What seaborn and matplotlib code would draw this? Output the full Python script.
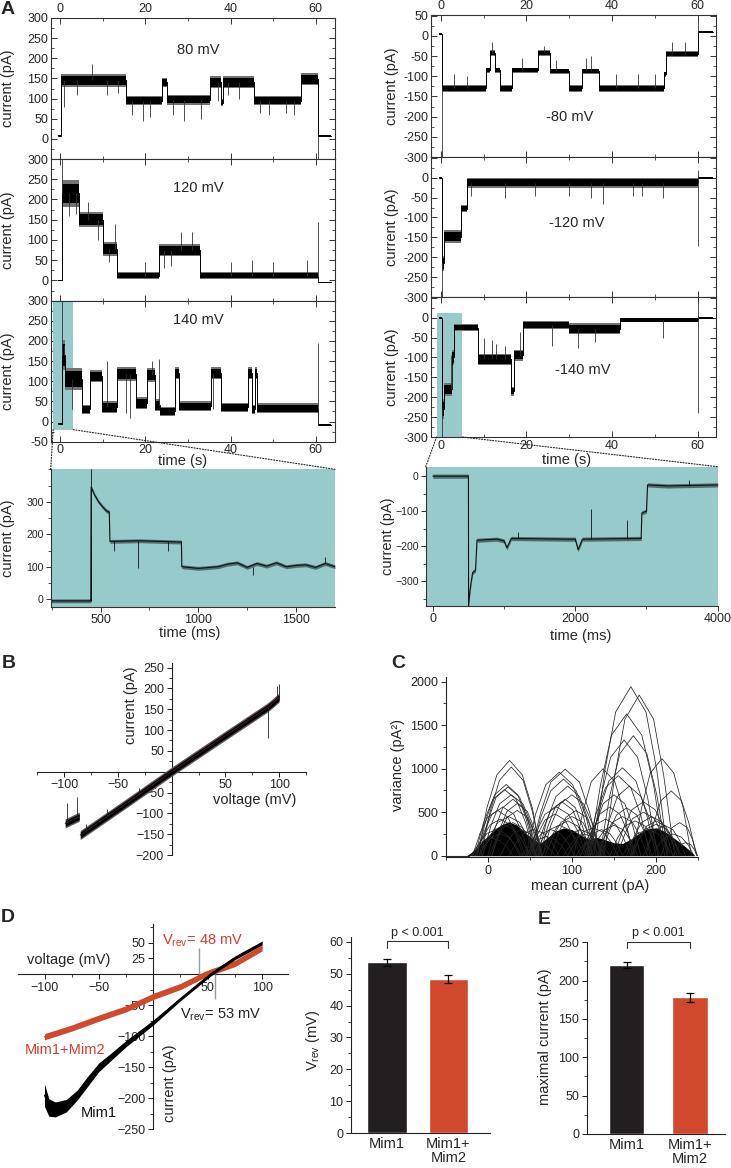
import numpy as np
import pandas as pd
import matplotlib
matplotlib.use('Agg')
import matplotlib.pyplot as plt
from matplotlib.patches import ConnectionPatch
from matplotlib.ticker import MultipleLocator, FixedLocator
import seaborn as sns

sns.set_theme(style='ticks')
plt.rcParams['font.family'] = ['Liberation Sans', 'DejaVu Sans']
plt.rcParams['mathtext.fontset'] = 'custom'
plt.rcParams['mathtext.rm'] = 'Liberation Sans'
plt.rcParams['mathtext.it'] = 'Liberation Sans:italic'
plt.rcParams['axes.linewidth'] = 0.8

# ---------------- DATA ----------------
# Panel A, single-channel traces (time s, current pA, noise half-width pA)
a80_t = [-0.5, 0.3, 15.5, 23.9, 25.0, 35.2, 37.7, 38.3, 45.5, 56.6, 60.6, 63.5]
a80_i = [8, 145, 95, 140, 97, 140, 90, 140, 95, 148, 8, 8]
a80_n = [1.5, 12, 9, 9, 9, 11, 7, 11, 9, 11, 1.5, 1.5]
a80_spk_t = [1.0, 4.0, 7.5, 11.0, 13.5, 17.0, 19.5, 21.0, 26.5, 29.0, 33.0, 37.0, 39.5, 42.0, 47.0, 49.0, 53.0, 55.0, 60.6]
a80_spk_i = [80, 110, 185, 110, 115, 60, 45, 55, 60, 45, 50, 95, 110, 100, 65, 60, 65, 60, -50]

a120_t = [-0.5, 0.4, 4.5, 10.2, 13.3, 23.2, 32.9, 60.5, 63.5]
a120_i = [0, 215, 150, 78, 12, 75, 12, -5, -5]
a120_n = [1.5, 24, 14, 13, 6, 11, 6, 1.5, 1.5]
a120_spk_t = [0.4, 2.2, 3.8, 6.5, 9.0, 11.5, 12.8, 20.0, 24.5, 26.0, 28.5, 31.0, 40.0, 45.0, 50.0, 58.0, 60.5]
a120_spk_i = [300, 160, 165, 195, 100, 45, 140, 45, 30, 35, 120, 120, 45, 50, 45, 50, 145]

a140_t = [-0.5, 0.4, 1.2, 5.1, 7.0, 9.8, 13.3, 17.8, 20.3, 22.3, 23.5, 27.0, 27.8,
          35.4, 37.7, 44.2, 45.0, 45.8, 46.2, 60.6, 63.5]
a140_i = [-5, 165, 105, 30, 112, 35, 118, 45, 115, 40, 25, 120, 38,
          120, 35, 120, 30, 120, 33, -8, -8]
a140_n = [1.5, 28, 20, 9, 11, 11, 13, 11, 13, 11, 9, 11, 9,
          11, 9, 11, 9, 11, 9, 1.5, 1.5]
a140_spk_t = [0.4, 1.0, 2.8, 11.0, 15.5, 16.5, 21.5, 23.3, 36.0, 60.6]
a140_spk_i = [300, 190, 30, 150, 20, 10, 150, 155, 30, 195]

b80_t = [-0.5, 0.2, 10.5, 11.4, 12.6, 13.8, 16.7, 22.7, 25.6, 30.0, 32.9, 37.0,
         52.1, 52.7, 60.1, 63.5]
b80_i = [5, -130, -85, -42, -85, -130, -85, -42, -88, -130, -88, -130,
         -95, -45, 10, 10]
b80_n = [1.5, 7, 5, 5, 5, 7, 5, 5, 5, 7, 5, 7, 5, 5, 1.5, 1.5]
b80_spk_t = [0.2, 3.0, 6.0, 11.9, 19.0, 24.0, 27.0, 34.0, 35.0, 41.0, 46.0, 50.0, 54.0, 57.0, 60.1]
b80_spk_i = [-300, -95, -100, -15, -55, -25, -60, -55, -50, -95, -95, -95, -15, -15, 50]

b120_t = [-0.5, 0.3, 0.8, 4.8, 6.2, 60.0, 63.5]
b120_i = [0, -215, -148, -78, -13, 0, 0]
b120_n = [1.5, 14, 12, 6, 9, 1.5, 1.5]
b120_spk_t = [0.3, 7.0, 15.0, 22.0, 30.0, 35.0, 38.0, 45.0, 47.0, 52.0, 60.0, 60.0]
b120_spk_i = [-300, -45, -50, -45, -45, -50, -65, -45, -45, -50, -173, 20]

b140_t = [-0.5, 0.3, 0.7, 2.7, 3.0, 8.7, 16.5, 17.0, 19.2, 30.0, 41.8, 60.1, 63.5]
b140_i = [0, -230, -180, -100, -25, -105, -185, -95, -18, -28, -6, 0, 0]
b140_n = [1.5, 18, 12, 14, 7, 11, 8, 10, 7, 10, 4, 1.5, 1.5]
b140_spk_t = [0.3, 2.3, 2.5, 10.0, 12.0, 13.0, 15.0, 18.5, 26.0, 32.0, 36.0, 52.0, 60.1, 60.1]
b140_spk_i = [-300, -95, -120, -50, -55, -65, -70, -35, -70, -75, -60, -50, 45, -240]

# highlighted windows (t0, t1, i0, i1)
win_left = [-1.6, 3.1, -20, 300]
win_right = [-1.0, 5.0, -300, 13]

# insets (time ms, current pA)
ins_l_t = [245, 450, 452, 470, 490, 510, 530, 545, 548, 700, 914, 916, 1000, 1100,
           1150, 1200, 1250, 1300, 1350, 1400, 1450, 1500, 1550, 1600, 1650, 1700]
ins_l_i = [-5, -5, 345, 320, 300, 285, 272, 268, 178, 180, 176, 100, 95, 100,
           108, 112, 98, 110, 102, 112, 100, 104, 106, 98, 110, 100]
ins_l_spk_t = [450, 451, 570, 690, 845, 1280, 1650]
ins_l_spk_i = [400, 195, 150, 95, 150, 75, 130]

ins_r_t = [0, 500, 502, 520, 540, 560, 600, 620, 900, 1000, 1040, 1100, 1900, 2000,
           2040, 2100, 2900, 2925, 2935, 3000, 3015, 3300, 4000]
ins_r_i = [0, 0, -370, -330, -300, -275, -268, -183, -180, -185, -205, -178, -180,
           -180, -210, -180, -178, -178, -105, -100, -25, -28, -25]
ins_r_spk_t = [1200, 2220, 2720, 3600]
ins_r_spk_i = [-160, -95, -125, -10]

# Panel B: I-V ramp
b_v1 = [-99, -86]
b_i1 = [-124, -108]
b_v2 = [-85, -40, 0, 45, 88, 92, 100]
b_i2 = [-152, -72, 0, 78, 152, 160, 178]
b_spk_v = [-97, -88, -80, -60, -30, 70, 90, 98, 100]
b_spk_i = [-75, -60, -125, -90, -40, 130, 80, 205, 210]

# Panel C: variance vs mean current (arcs)
c_arc_x = [
    [-12, -1, 11, 26, 41, 53, 64], [-8, 3, 14, 28, 42, 53, 64],
    [-13, -2, 8, 22, 36, 46, 57], [-10, 0, 10, 24, 38, 48, 58],
    [-15, -5, 6, 20, 34, 45, 55], [0, 9, 18, 30, 42, 51, 60],
    [-14, -4, 5, 18, 31, 40, 50], [5, 14, 23, 35, 47, 56, 65],
    [-15, -6, 3, 15, 27, 36, 45],
    [-18, -10, -1, 10, 21, 30, 38], [-10, -1, 8, 20, 32, 41, 50],
    [2, 10, 19, 30, 41, 50, 58], [-7, 3, 12, 25, 38, 47, 57],
    [-10, -3, 5, 15, 25, 33, 40], [15, 23, 30, 40, 50, 58, 65],
    [-20, -13, -5, 5, 15, 23, 30], [5, 14, 23, 35, 47, 56, 65],
    [-6, 4, 14, 28, 42, 52, 62], [-18, -9, 0, 12, 24, 33, 42],
    [50, 63, 75, 92, 109, 121, 134], [45, 57, 69, 85, 101, 113, 125],
    [52, 63, 75, 90, 105, 117, 128], [60, 70, 81, 95, 109, 120, 130],
    [65, 75, 86, 100, 114, 125, 135], [56, 66, 75, 88, 101, 110, 120],
    [75, 84, 93, 105, 117, 126, 135], [50, 59, 68, 80, 92, 101, 110],
    [47, 55, 64, 75, 86, 95, 103], [55, 64, 73, 85, 97, 106, 115],
    [65, 74, 83, 95, 107, 116, 125], [82, 90, 99, 110, 121, 130, 138],
    [68, 78, 87, 100, 113, 122, 132], [47, 58, 68, 82, 96, 107, 117],
    [62, 71, 80, 92, 104, 113, 122], [90, 98, 105, 115, 125, 133, 140],
    [45, 53, 60, 70, 80, 88, 95],
    [126, 139, 152, 170, 188, 201, 214], [138, 151, 163, 180, 197, 209, 222],
    [120, 134, 147, 165, 183, 197, 210], [133, 145, 157, 173, 189, 201, 213],
    [122, 134, 146, 162, 178, 190, 202], [102, 113, 123, 137, 151, 162, 172],
    [120, 132, 144, 160, 176, 188, 200], [117, 128, 140, 155, 170, 182, 193],
    [172, 183, 193, 207, 221, 232, 242], [188, 197, 206, 218, 230, 239, 248],
    [133, 144, 154, 168, 182, 193, 203], [118, 128, 137, 150, 163, 172, 182],
    [150, 161, 171, 185, 199, 210, 220], [206, 213, 219, 228, 237, 243, 249],
    [115, 124, 133, 145, 157, 166, 175], [170, 179, 188, 200, 212, 221, 230],
    [110, 118, 125, 135, 145, 153, 160], [122, 130, 139, 150, 161, 170, 178],
    [130, 139, 148, 160, 172, 181, 190], [145, 154, 163, 175, 187, 196, 205],
    [160, 169, 178, 190, 202, 211, 220], [172, 180, 189, 200, 211, 220, 228],
    [185, 193, 200, 210, 220, 228, 235], [195, 203, 210, 220, 230, 238, 245],
    [153, 163, 172, 185, 198, 207, 217], [135, 144, 153, 165, 177, 186, 195],
    [110, 119, 128, 140, 152, 161, 170], [165, 174, 183, 195, 207, 216, 225],
    [25, 34, 43, 55, 67, 76, 85], [95, 104, 113, 125, 137, 146, 155],
    [40, 46, 52, 60, 68, 74, 80], [105, 111, 117, 125, 133, 139, 145],
    [220, 225, 229, 235, 241, 245, 249],
]
c_arc_y = [
    [0, 548, 931, 1095, 931, 548, 0], [0, 510, 867, 1020, 867, 510, 0],
    [0, 410, 697, 820, 697, 410, 0], [0, 395, 672, 790, 672, 395, 0],
    [0, 380, 646, 760, 646, 380, 0], [0, 325, 553, 650, 553, 325, 0],
    [0, 280, 476, 560, 476, 280, 0], [0, 260, 442, 520, 442, 260, 0],
    [0, 210, 357, 420, 357, 210, 0],
    [0, 150, 255, 300, 255, 150, 0], [0, 175, 298, 350, 298, 175, 0],
    [0, 190, 323, 380, 323, 190, 0], [0, 225, 383, 450, 383, 225, 0],
    [0, 125, 213, 250, 213, 125, 0], [0, 150, 255, 300, 255, 150, 0],
    [0, 100, 170, 200, 170, 100, 0], [0, 300, 510, 600, 510, 300, 0],
    [0, 350, 595, 700, 595, 350, 0], [0, 260, 442, 520, 442, 260, 0],
    [0, 498, 846, 995, 846, 498, 0], [0, 480, 816, 960, 816, 480, 0],
    [0, 440, 748, 880, 748, 440, 0], [0, 400, 680, 800, 680, 400, 0],
    [0, 350, 595, 700, 595, 350, 0], [0, 310, 527, 620, 527, 310, 0],
    [0, 260, 442, 520, 442, 260, 0], [0, 240, 408, 480, 408, 240, 0],
    [0, 150, 255, 300, 255, 150, 0], [0, 175, 298, 350, 298, 175, 0],
    [0, 200, 340, 400, 340, 200, 0], [0, 150, 255, 300, 255, 150, 0],
    [0, 225, 383, 450, 383, 225, 0], [0, 280, 476, 560, 476, 280, 0],
    [0, 325, 553, 650, 553, 325, 0], [0, 125, 213, 250, 213, 125, 0],
    [0, 110, 187, 220, 187, 110, 0],
    [0, 972, 1652, 1943, 1652, 972, 0], [0, 924, 1570, 1847, 1570, 924, 0],
    [0, 815, 1386, 1630, 1386, 815, 0], [0, 690, 1173, 1380, 1173, 690, 0],
    [0, 665, 1131, 1330, 1131, 665, 0], [0, 500, 850, 1000, 850, 500, 0],
    [0, 505, 859, 1010, 859, 505, 0], [0, 460, 782, 920, 782, 460, 0],
    [0, 558, 949, 1116, 949, 558, 0], [0, 373, 633, 745, 633, 373, 0],
    [0, 400, 680, 800, 680, 400, 0], [0, 350, 595, 700, 595, 350, 0],
    [0, 310, 527, 620, 527, 310, 0], [0, 190, 323, 380, 323, 190, 0],
    [0, 280, 476, 560, 476, 280, 0], [0, 180, 306, 360, 306, 180, 0],
    [0, 150, 255, 300, 255, 150, 0], [0, 175, 298, 350, 298, 175, 0],
    [0, 225, 383, 450, 383, 225, 0], [0, 200, 340, 400, 340, 200, 0],
    [0, 150, 255, 300, 255, 150, 0], [0, 200, 340, 400, 340, 200, 0],
    [0, 175, 298, 350, 298, 175, 0], [0, 125, 213, 250, 213, 125, 0],
    [0, 250, 425, 500, 425, 250, 0], [0, 275, 468, 550, 468, 275, 0],
    [0, 210, 357, 420, 357, 210, 0], [0, 225, 383, 450, 383, 225, 0],
    [0, 150, 255, 300, 255, 150, 0], [0, 160, 272, 320, 272, 160, 0],
    [0, 75, 128, 150, 128, 75, 0], [0, 90, 153, 180, 153, 90, 0],
    [0, 75, 128, 150, 128, 75, 0],
]
c_env_x = [-25, -15, -5, 5, 15, 25, 35, 45, 55, 62, 70, 80, 90, 100, 110, 120, 130,
           140, 150, 160, 170, 180, 190, 200, 210, 220, 230, 240, 246]
c_env_y = [0, 70, 180, 270, 350, 390, 350, 260, 180, 140, 200, 280, 320, 300, 240, 190,
           210, 180, 150, 140, 190, 260, 310, 320, 280, 210, 140, 60, 0]
c_base_x = [-50, -22]
c_base_y = [0, 0]

# Panel D: I-V curves
d_red_v = [-100, -75, -50, -25, 0, 25, 48, 75, 100]
d_red_i = [-101, -87, -71, -56, -36, -20, 0, 17, 42]
d_blk_v = [-100, -96, -90, -80, -70, -60, -50, -40, -25, 0, 25, 53, 75, 100]
d_blk_i = [-195, -215, -218, -212, -195, -172, -150, -135, -112, -78, -40, 0, 26, 50]
d_blk_n = [18, 14, 12, 10, 8, 8, 7, 6, 5, 4, 3, 3, 3, 3]
d_mark_v = [42, 57]
d_mark_i = [42, -41]

groups = ['Mim1', 'Mim1+\nMim2']
vrev_mean = [53.5, 48.4]
vrev_err = [1.2, 1.3]
imax_mean = [220, 178]
imax_err = [4, 6.5]

# ---------------- STYLE ----------------
W, H = 731, 1168
CYAN = '#97CACA'
RED = '#D1492C'
RED_TXT = '#D93A2C'
BLK = '#231F20'
TICK_FS = 9
INSET_FS = 7.6
LAB_FS = 10.5

fig = plt.figure(figsize=(W / 100, H / 100), dpi=100)
fig.patch.set_facecolor('white')


def add_ax(x0, y0, x1, y1):
    return fig.add_axes([x0 / W, 1 - y1 / H, (x1 - x0) / W, (y1 - y0) / H])


def ftext(x, y, s, **kw):
    kw.setdefault('ha', 'center')
    kw.setdefault('va', 'center')
    return fig.text(x / W, 1 - y / H, s, **kw)


def draw_trace(ax, t, i, n, spk_t, spk_i, lw=0.7):
    t = np.asarray(t, float)
    i = np.asarray(i, float)
    n = np.asarray(n, float)
    ax.fill_between(t, i - 1.35 * n, i + 1.35 * n, step='post', color='0.45', lw=0, zorder=2)
    ax.fill_between(t, i - n, i + n, step='post', color='black', lw=0, zorder=2.1)
    sns.lineplot(x=t, y=i, ax=ax, drawstyle='steps-post', estimator=None, sort=False,
                 color='black', lw=lw, zorder=2.2)
    st = np.asarray(spk_t, float)
    base = i[np.clip(np.searchsorted(t, st, side='right') - 1, 0, len(i) - 1)]
    ax.vlines(st, base, spk_i, color='#333333', lw=0.6, zorder=2.2)


def style_trace(ax, xlim, ylim, yticks, ylabels, top=False, bottom=False):
    ax.set_xlim(xlim)
    ax.set_ylim(ylim)
    ax.set_xticks([0, 20, 40, 60])
    ax.xaxis.set_minor_locator(FixedLocator([10, 30, 50]))
    ax.set_yticks(yticks)
    ax.set_yticklabels(ylabels)
    ax.yaxis.set_minor_locator(MultipleLocator(25))
    ax.tick_params(which='both', direction='in', top=True, right=True, left=True, bottom=True,
                   labelsize=TICK_FS, labeltop=top, labelbottom=bottom, pad=2, color='#333333')
    ax.tick_params(which='major', length=4, width=0.7)
    ax.tick_params(which='minor', length=2, width=0.6)
    for s in ax.spines.values():
        s.set_color('#333333')
        s.set_linewidth(0.8)
        s.set_visible(True)
    ax.set_xlabel('')
    ax.set_ylabel('')
    ax.set_facecolor('white')


# ---------------- PANEL A ----------------
left_rows = [(18, 159), (159, 300.7), (300.7, 441.7)]
right_rows = [(15, 157), (157, 297), (297, 437)]
left_data = [(a80_t, a80_i, a80_n, a80_spk_t, a80_spk_i, '80 mV', (0.518, 0.773)),
             (a120_t, a120_i, a120_n, a120_spk_t, a120_spk_i, '120 mV', (0.518, 0.795)),
             (a140_t, a140_i, a140_n, a140_spk_t, a140_spk_i, '140 mV', (0.518, 0.863))]
right_data = [(b80_t, b80_i, b80_n, b80_spk_t, b80_spk_i, '-80 mV', (0.488, 0.282)),
              (b120_t, b120_i, b120_n, b120_spk_t, b120_spk_i, '-120 mV', (0.511, 0.526)),
              (b140_t, b140_i, b140_n, b140_spk_t, b140_spk_i, '-140 mV', (0.533, 0.479))]

lyt = list(range(-50, 301, 50))
ryt = list(range(-300, 51, 50))
left_axes = []
for k, ((y0, y1), (t, i, n, st, si, lab, pos)) in enumerate(zip(left_rows, left_data)):
    ax = add_ax(51, y0, 335, y1)
    if k == 2:
        ax.fill_between([win_left[0], win_left[1]], win_left[2], win_left[3], color=CYAN, lw=0, zorder=1)
    draw_trace(ax, t, i, n, st, si)
    labels = [str(v) for v in lyt]
    if k < 2:
        labels[0] = ''
    style_trace(ax, (-2.1, 64.5), (-50, 300), lyt, labels, top=(k == 0), bottom=(k == 2))
    ax.text(pos[0], pos[1], lab, transform=ax.transAxes, ha='center', va='center', fontsize=LAB_FS)
    ftext(8.5, (y0 + y1) / 2, 'current (pA)', rotation=90, fontsize=LAB_FS)
    left_axes.append(ax)

right_axes = []
for k, ((y0, y1), (t, i, n, st, si, lab, pos)) in enumerate(zip(right_rows, right_data)):
    ax = add_ax(431, y0, 716, y1)
    if k == 2:
        ax.fill_between([win_right[0], win_right[1]], win_right[2], win_right[3], color=CYAN, lw=0, zorder=1)
    draw_trace(ax, t, i, n, st, si)
    labels = [str(v) for v in ryt]
    if k > 0:
        labels[-1] = ''
    style_trace(ax, (-2.3, 64.3), (-300, 52), ryt, labels, top=(k == 0), bottom=(k == 2))
    ax.text(pos[0], pos[1], lab, transform=ax.transAxes, ha='center', va='center', fontsize=LAB_FS)
    ftext(392, (y0 + y1) / 2, 'current (pA)', rotation=90, fontsize=LAB_FS)
    right_axes.append(ax)

ftext(183, 461, 'time (s)', fontsize=LAB_FS)
ftext(567, 460, 'time (s)', fontsize=LAB_FS)


def style_inset(ax):
    ax.set_facecolor(CYAN)
    for s in ['top', 'right']:
        ax.spines[s].set_visible(False)
    for s in ['left', 'bottom']:
        ax.spines[s].set_color('#333333')
        ax.spines[s].set_linewidth(0.8)
    ax.tick_params(which='both', direction='out', labelsize=INSET_FS, pad=1.5, color='#333333',
                   left=True, bottom=True)
    ax.tick_params(axis='x', labelsize=TICK_FS)
    ax.tick_params(which='major', length=3.5, width=0.7)
    ax.tick_params(which='minor', length=2, width=0.6)
    ax.set_xlabel('')
    ax.set_ylabel('')


def draw_inset(ax, t, i, spk_t, spk_i):
    ti = np.asarray(t, float)
    ii = np.asarray(i, float)
    ax.fill_between(ti, ii - 6, ii + 6, color='#1e3333', alpha=0.6, lw=0)
    sns.lineplot(x=ti, y=ii, ax=ax, estimator=None, sort=False, color='#111111', lw=0.8)
    base = ii[np.clip(np.searchsorted(ti, spk_t, side='right') - 1, 0, len(ii) - 1)]
    ax.vlines(spk_t, base, spk_i, color='#111111', lw=0.6)


# left inset
axl = add_ax(50.7, 469.3, 335, 606.7)
draw_inset(axl, ins_l_t, ins_l_i, ins_l_spk_t, ins_l_spk_i)
axl.set_xlim(245, 1700)
axl.set_ylim(-23, 400)
axl.set_xticks([500, 1000, 1500])
axl.xaxis.set_minor_locator(MultipleLocator(250))
axl.set_yticks([0, 100, 200, 300])
axl.yaxis.set_minor_locator(MultipleLocator(50))
style_inset(axl)
ftext(8.5, 538, 'current (pA)', rotation=90, fontsize=LAB_FS)
ftext(190, 633, 'time (ms)', fontsize=LAB_FS)

# right inset
axr = add_ax(425.7, 466.7, 717.7, 605.7)
draw_inset(axr, ins_r_t, ins_r_i, ins_r_spk_t, ins_r_spk_i)
axr.set_xlim(-100, 4000)
axr.set_ylim(-370, 27)
axr.set_xticks([0, 2000, 4000])
axr.xaxis.set_minor_locator(MultipleLocator(1000))
axr.set_yticks([0, -100, -200, -300])
axr.yaxis.set_minor_locator(MultipleLocator(50))
style_inset(axr)
ftext(388, 536, 'current (pA)', rotation=90, fontsize=LAB_FS)
ftext(581, 636, 'time (ms)', fontsize=LAB_FS)

# connectors
for (xa, xb) in [(win_left[0], 0), (win_left[1], 1)]:
    con = ConnectionPatch(xyA=(xa, win_left[2]), coordsA=left_axes[2].transData,
                          xyB=(xb, 1), coordsB=axl.transAxes, linestyle=(0, (1, 1.5)),
                          color='#222222', lw=0.8)
    fig.add_artist(con)
for (xa, xb) in [(win_right[0], 0), (win_right[1], 1)]:
    con = ConnectionPatch(xyA=(xa, win_right[2]), coordsA=right_axes[2].transData,
                          xyB=(xb, 1), coordsB=axr.transAxes, linestyle=(0, (1, 1.5)),
                          color='#222222', lw=0.8)
    fig.add_artist(con)


def origin_axes(ax):
    ax.spines['left'].set_position(('data', 0))
    ax.spines['bottom'].set_position(('data', 0))
    ax.spines['top'].set_visible(False)
    ax.spines['right'].set_visible(False)
    for s in ['left', 'bottom']:
        ax.spines[s].set_color('#222222')
        ax.spines[s].set_linewidth(0.8)
    ax.tick_params(which='both', direction='out', labelsize=TICK_FS, pad=2, color='#222222',
                   left=True, bottom=True)
    ax.tick_params(which='major', length=3.5, width=0.7)
    ax.tick_params(which='minor', length=2, width=0.6)
    ax.set_facecolor('none')
    ax.set_xlabel('')
    ax.set_ylabel('')


# ---------------- PANEL B ----------------
axB = add_ax(37.3, 663.4, 306, 855)
for v, i in [(b_v1, b_i1), (b_v2, b_i2)]:
    v = np.asarray(v, float)
    i = np.asarray(i, float)
    axB.fill_between(v, i - 11, i + 11, color='0.35', lw=0, zorder=3)
    axB.fill_between(v, i - 7, i + 7, color='black', lw=0, zorder=3.1)
    sns.lineplot(x=v, y=i, ax=axB, estimator=None, sort=False, color='#3a1a1a', lw=0.8, zorder=3.2)
bv = np.asarray(b_v2, float)
bi = np.asarray(b_i2, float)
spk_base = np.interp(b_spk_v, np.r_[b_v1, bv], np.r_[b_i1, bi])
axB.vlines(b_spk_v, spk_base, b_spk_i, color='#222222', lw=0.6, zorder=3.2)
axB.set_xlim(-125, 125)
axB.set_ylim(-200, 260)
axB.set_xticks([-100, -50, 50, 100])
axB.xaxis.set_minor_locator(MultipleLocator(25))
axB.set_yticks([-200, -150, -100, -50, 50, 100, 150, 200, 250])
axB.yaxis.set_minor_locator(MultipleLocator(25))
origin_axes(axB)
ftext(131, 705, 'current (pA)', rotation=90, fontsize=LAB_FS)
ftext(255, 800, 'voltage (mV)', fontsize=LAB_FS)

# ---------------- PANEL C ----------------
axC = add_ax(445.6, 676.5, 698.2, 857)
axC.fill_between(c_env_x, 0, c_env_y, color='black', lw=0)
arc_df = pd.DataFrame({
    'x': [x for xs in c_arc_x for x in xs],
    'y': [y for ys in c_arc_y for y in ys],
    'arc': [k for k, xs in enumerate(c_arc_x) for _ in xs],
})
sns.lineplot(data=arc_df, x='x', y='y', units='arc', estimator=None, sort=False,
             color='#262626', lw=0.55, ax=axC)
sns.lineplot(x=c_base_x, y=c_base_y, ax=axC, color='#2b2b2b', lw=0.8)
axC.set_xlim(-50, 250)
axC.set_ylim(-15, 2060)
axC.set_xticks([0, 100, 200])
axC.xaxis.set_minor_locator(MultipleLocator(50))
axC.set_yticks([0, 500, 1000, 1500, 2000])
axC.yaxis.set_minor_locator(MultipleLocator(250))
for s in ['top', 'right']:
    axC.spines[s].set_visible(False)
for s in ['left', 'bottom']:
    axC.spines[s].set_color('#222222')
    axC.spines[s].set_linewidth(0.8)
axC.tick_params(which='both', direction='out', labelsize=TICK_FS, pad=2, color='#222222')
axC.tick_params(which='major', length=3.5, width=0.7)
axC.tick_params(which='minor', length=2, width=0.6)
axC.set_xlabel('')
axC.set_ylabel('')
ftext(398, 765, 'variance (pA²)', rotation=90, fontsize=LAB_FS)
ftext(590, 886, 'mean current (pA)', fontsize=LAB_FS)

# ---------------- PANEL D (I-V) ----------------
axD = add_ax(18.4, 924.3, 288.2, 1129.3)
rv = np.asarray(d_red_v, float)
ri = np.asarray(d_red_i, float)
axD.fill_between(rv, ri - 5, ri + 5, color=RED, lw=0, zorder=3)
sns.lineplot(x=rv, y=ri, ax=axD, estimator=None, sort=False, color=RED, lw=1.0, zorder=3.1)
kv = np.asarray(d_blk_v, float)
ki = np.asarray(d_blk_i, float)
kn = np.asarray(d_blk_n, float)
axD.fill_between(kv, ki - kn, ki + kn, color='black', lw=0, zorder=3.2)
sns.lineplot(x=kv, y=ki, ax=axD, estimator=None, sort=False, color='black', lw=0.8, zorder=3.3)
axD.vlines(d_mark_v, 0, d_mark_i, color='#9a9a9a', lw=1.0, zorder=3.4)
axD.set_xlim(-124, 124)
axD.set_ylim(-250, 80)
axD.set_xticks([-100, -50, 50, 100])
axD.xaxis.set_minor_locator(MultipleLocator(25))
axD.set_yticks([-250, -200, -150, -100, -50, 25, 50])
axD.yaxis.set_minor_locator(MultipleLocator(25))
origin_axes(axD)
ftext(69, 960, 'voltage (mV)', fontsize=LAB_FS)
ftext(170, 1083, 'current (pA)', rotation=90, fontsize=LAB_FS)
ftext(161.7, 941, r'V$_{\rm rev}$= 48 mV', ha='left', fontsize=LAB_FS, color=RED_TXT)
ftext(180, 1015, r'V$_{\rm rev}$= 53 mV', ha='left', fontsize=LAB_FS, color='#222222')
ftext(25, 1050, 'Mim1+Mim2', ha='left', fontsize=LAB_FS, color=RED_TXT)
ftext(81, 1113, 'Mim1', ha='left', fontsize=LAB_FS, color='#111111')


# ---------------- BAR PANELS ----------------
def bar_panel(ax, means, errs, width, xlim, ylim, major, minor, bracket_y, tick_y, text_y):
    sns.barplot(x=groups, y=means, hue=groups, palette=[BLK, RED], legend=False,
                width=width, saturation=1, ax=ax)
    ax.errorbar([0, 1], means, yerr=errs, fmt='none', ecolor='black', elinewidth=0.9,
                capsize=3, capthick=0.9)
    ax.set_xlim(xlim)
    ax.set_ylim(ylim)
    ax.yaxis.set_major_locator(MultipleLocator(major))
    ax.yaxis.set_minor_locator(MultipleLocator(minor))
    for s in ['top', 'right']:
        ax.spines[s].set_visible(False)
    for s in ['left', 'bottom']:
        ax.spines[s].set_color('#222222')
        ax.spines[s].set_linewidth(0.8)
    ax.tick_params(axis='y', which='both', direction='out', labelsize=TICK_FS, pad=2, color='#222222')
    ax.tick_params(axis='y', which='major', length=3.5, width=0.7)
    ax.tick_params(axis='y', which='minor', length=2, width=0.6)
    ax.tick_params(axis='x', length=0, labelsize=10.5, pad=3)
    for lbl in ax.get_xticklabels():
        lbl.set_linespacing(1.0)
    ax.set_xlabel('')
    ax.set_ylabel('')
    ax.plot([0, 0, 1, 1], [tick_y, bracket_y, bracket_y, tick_y], color='#333333', lw=0.8,
            clip_on=False)
    ax.text(0.5, text_y, 'p < 0.001', ha='center', va='center', fontsize=TICK_FS, clip_on=False)


axV = add_ax(351, 936.9, 490, 1133.3)
bar_panel(axV, vrev_mean, vrev_err, 0.64, (-0.585, 1.675), (0, 61.5), 10, 5, 60.3, 58.0, 62.6)
ftext(313, 1040, r'V$_{\rm rev}$ (mV)', rotation=90, fontsize=LAB_FS)

axE = add_ax(586.7, 941.5, 725, 1134)
bar_panel(axE, imax_mean, imax_err, 0.56, (-0.632, 1.553), (0, 251), 50, 25, 250.7, 242, 261.7)
ftext(545, 1037, 'maximal current (pA)', rotation=90, fontsize=LAB_FS)

# panel letters
for x, y, s in [(8, 9, 'A'), (9, 664, 'B'), (398, 664, 'C'), (8, 917, 'D'), (544, 920, 'E')]:
    ftext(x, y, s, fontsize=14, weight='bold')

fig.savefig('out.png', dpi=100, facecolor='white')
